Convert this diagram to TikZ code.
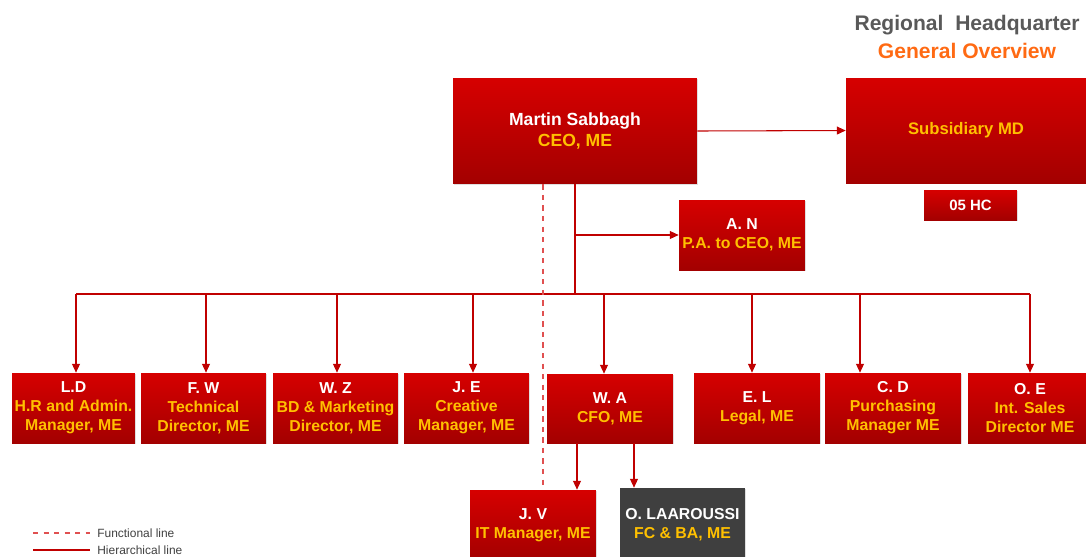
\documentclass[tikz,border=0pt]{standalone}
\usepackage{fontspec}
\setmainfont{Liberation Sans}
\usetikzlibrary{arrows.meta}
\usetikzlibrary{shadows}
\definecolor{boxtop}{HTML}{D60000}
\definecolor{boxbot}{HTML}{A30000}
\definecolor{rolecol}{HTML}{FFC000}
\definecolor{linecol}{HTML}{C00000}
\definecolor{dashcol}{HTML}{E05050}
\definecolor{titlegray}{HTML}{595959}
\definecolor{titleorange}{HTML}{FF6A13}
\definecolor{darkbox}{HTML}{3F3F3F}

\begin{document}
\begin{tikzpicture}[x=0.02cm,y=-0.02cm,
    post/.style={rectangle,top color=boxtop,bottom color=boxbot,draw=none,
      minimum width=2.5cm,minimum height=1.4cm,inner sep=0pt,align=center,
      font=\bfseries\fontsize{9}{10.8}\selectfont,text=rolecol,
      drop shadow={opacity=0.25,shadow xshift=0.8pt,shadow yshift=-0.8pt}},
    link/.style={draw=linecol,line width=0.6pt},
    hier/.style={link,-{Triangle[length=5pt,width=4.5pt]}},
    func/.style={draw=dashcol,line width=0.6pt,dashed}]
        \def\nm#1{\textcolor{white}{#1}}

        \useasboundingbox (0,0) rectangle (1086,556);
        \clip (0,0) rectangle (1086,556);

        %------------------
        % title
        %------------------
        \node[font=\bfseries\fontsize{12}{14}\selectfont,text=titlegray] (title) at (967,25) {Regional\ \ Headquarter};
        \node[font=\bfseries\fontsize{12}{14}\selectfont,text=titleorange] (subtitle) at (967,51) {General Overview};

        %------------------
        % top level
        %------------------
        \node[post,minimum width=4.88cm,minimum height=2.12cm,font=\bfseries\fontsize{10}{12}\selectfont]
          (ceo) at (575,131) {\nm{Martin Sabbagh}\\CEO, ME};
        \node[post,minimum width=4.8cm,minimum height=2.1cm,font=\bfseries\fontsize{9.5}{11}\selectfont]
          (md) at (966,130.5) {Subsidiary MD};
        \node[post,minimum width=1.86cm,minimum height=0.6cm,font=\bfseries\fontsize{8.5}{10}\selectfont]
          (hc) at (970.5,205) {\nm{05 HC}};
        \node[post,minimum width=2.52cm] (an) at (742,235) {\nm{A. N}\\P.A. to CEO, ME};

        %------------------
        % direct reports
        %------------------
        \node[post,minimum width=2.46cm] (ld) at (73.5,408) {\nm{L.D}\\H.R and Admin.\\Manager, ME};
        \node[post] (fw) at (203.5,408) {\nm{F. W}\\Technical\\Director, ME};
        \node[post] (wz) at (335.5,408) {\nm{W. Z}\\BD \& Marketing\\Director, ME};
        \node[post] (je) at (466.5,408) {\nm{J. E}\\Creative\\Manager, ME};
        \node[post,minimum width=2.52cm,minimum height=1.38cm] (wa) at (610,408.5) {\nm{W. A}\\CFO, ME};
        \node[post,minimum width=2.52cm] (el) at (757,408) {\nm{E. L}\\Legal, ME};
        \node[post,minimum width=2.72cm] (cd) at (893,408) {\nm{C. D}\\Purchasing\\Manager ME};
        \node[post,minimum width=2.48cm] (oe) at (1030,408) {\nm{O. E}\\Int. Sales\\Director ME};

        %------------------
        % under CFO
        %------------------
        \node[post,minimum width=2.52cm,minimum height=1.4cm] (jv) at (533,525) {\nm{J. V}\\IT Manager, ME};
        \node[post,top color=darkbox,bottom color=darkbox,minimum width=2.5cm,minimum height=1.48cm]
          (ol) at (682.5,525) {\nm{O. LAAROUSSI}\\FC \& BA, ME};

        %------------------
        % lines
        %------------------
        \coordinate (busL) at (76,294);
        \coordinate (busR) at (1030,294);
        \draw[hier] (ceo.east) -- (md.west);
        \draw[link] (ceo.south) -- (ceo.south |- busL);
        \draw[hier] (ceo.south |- an.west) -- (an.west);
        \draw[link] (busL) -- (busR);
        \foreach \x/\n [count=\i] in {76/ld,206/fw,337/wz,473/je,604/wa,752/el,860/cd,1030/oe}
        {
          \coordinate (d\i) at (\x,294);
          \draw[hier] (d\i) -- (d\i |- \n.north);
        }

        \coordinate (fx) at (543,0);
        \draw[func] (ceo.south -| fx) -- (jv.north -| fx);

        \coordinate (wa1) at (577,0);
        \coordinate (wa2) at (634,0);
        \draw[hier] (wa.south -| wa1) -- (jv.north -| wa1);
        \draw[hier] (wa.south -| wa2) -- (ol.north -| wa2);

        %------------------
        % legend
        %------------------
        \coordinate (lf) at (33,533);
        \coordinate (lh) at (33,550);
        \node[anchor=west,inner sep=0pt,text=darkbox,font=\fontsize{6.8}{8}\selectfont] (lftext) at (97,533) {Functional line};
        \node[anchor=west,inner sep=0pt,text=darkbox,font=\fontsize{6.8}{8}\selectfont] (lhtext) at (97,550) {Hierarchical line};
        \draw[func] (lf) -- (lf -| 90,0);
        \draw[draw=linecol,line width=0.9pt] (lh) -- (lh -| 90,0);
      \end{tikzpicture}
\end{document}
